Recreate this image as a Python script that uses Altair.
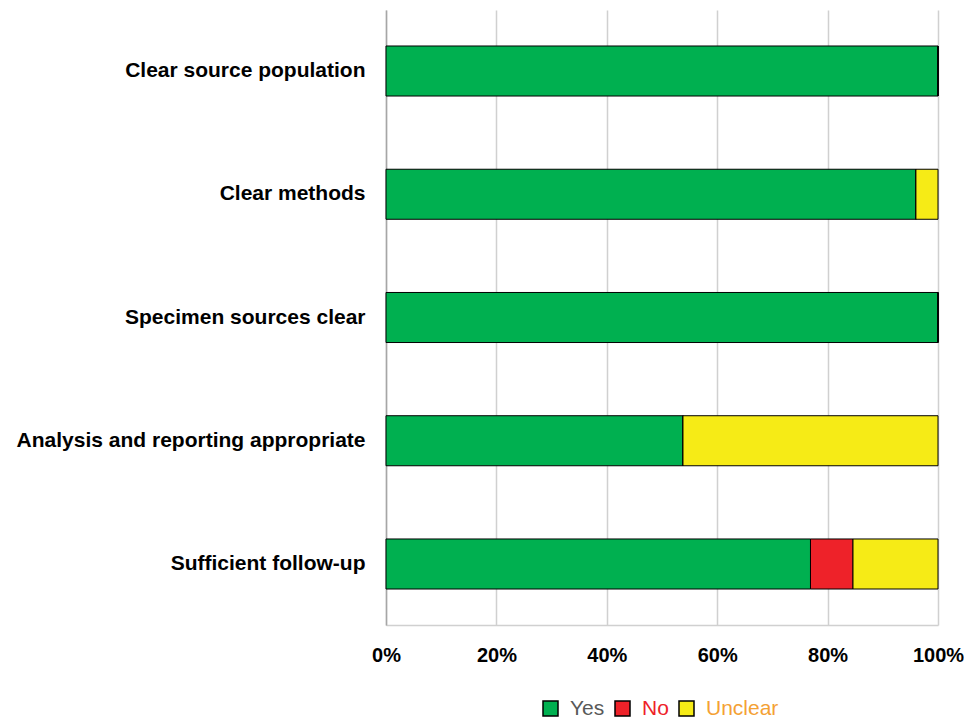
import altair as alt
import pandas as pd

categories = ["Clear source population", "Clear methods", "Specimen sources clear",
              "Analysis and reporting appropriate", "Sufficient follow-up"]
yes_vals = [100.0, 96.0, 100.0, 53.8, 76.9]
no_vals = [0.0, 0.0, 0.0, 0.0, 7.7]
unclear_vals = [0.0, 4.0, 0.0, 46.2, 15.4]
series = ["Yes", "No", "Unclear"]
colors = ["#00B050", "#EE2229", "#F6EB16"]

rows = []
for i, c in enumerate(categories):
    for s, vals, k in zip(series, [yes_vals, no_vals, unclear_vals], range(3)):
        rows.append({"Category": c, "Response": s, "Value": vals[i] / 100.0, "Order": k})
df = pd.DataFrame(rows)

chart = alt.Chart(df).mark_bar(stroke="black", strokeWidth=1).encode(
    y=alt.Y("Category:N", sort=categories, title=None,
            scale=alt.Scale(paddingInner=0.594, paddingOuter=0.292),
            axis=alt.Axis(labelFont="Liberation Sans", labelFontSize=21, labelFontWeight="bold",
                          labelColor="black", labelPadding=21, ticks=False,
                          domainColor="#A6A6A6", domainWidth=1.5, labelLimit=400)),
    x=alt.X("Value:Q", stack="zero", title=None,
            scale=alt.Scale(domain=[0, 1]),
            axis=alt.Axis(format="%", values=[0, 0.2, 0.4, 0.6, 0.8, 1.0],
                          labelFont="Liberation Sans", labelFontSize=20, labelFontWeight="bold",
                          labelColor="black", labelPadding=20, ticks=False, labelFlush=False,
                          grid=True, gridColor="#D0D0D0", gridWidth=1.5,
                          domainColor="#D0D0D0", domainWidth=1.5)),
    color=alt.Color("Response:N", sort=series,
                    scale=alt.Scale(domain=series, range=colors),
                    legend=alt.Legend(title=None, orient="none", direction="horizontal",
                                      legendX=154, legendY=688,
                                      symbolType="square", symbolSize=225,
                                      symbolStrokeColor="black", symbolStrokeWidth=1.5,
                                      labelFont="Liberation Sans", labelFontSize=21,
                                      labelOffset=9, columnPadding=7,
                                      labelColor=alt.ExprRef("datum.value == 'Yes' ? '#595959' : datum.value == 'No' ? '#EE2229' : '#F4A134'"))),
    order=alt.Order("Order:Q"),
).properties(
    width=552, height=615,
    autosize=alt.AutoSizeParams(type="none"),
    padding={"left": 386, "top": 10, "right": 26, "bottom": 95},
).configure_view(stroke=None)

chart.save("out.html", embed_options={"renderer": "svg", "actions": False})
